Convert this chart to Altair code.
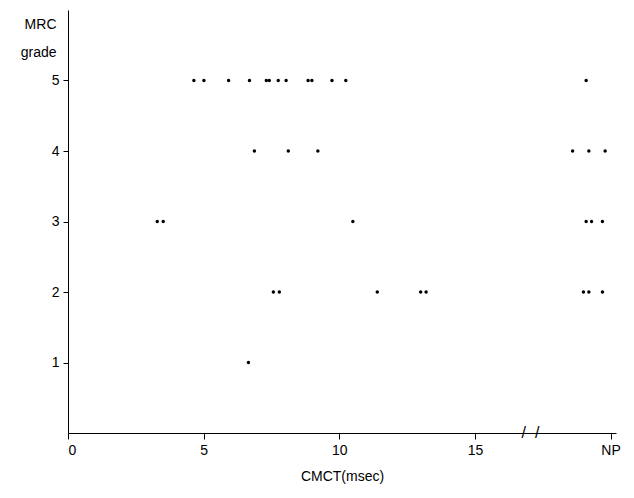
import altair as alt
import pandas as pd

# CMCT values (msec); NP (not performed) plotted near 20
grade5 = [4.64, 5.01, 5.92, 6.69, 7.31, 7.42, 7.75, 8.04, 8.85, 8.99, 9.73, 10.24, 19.1]
grade4 = [6.87, 8.12, 9.21, 18.6, 19.2, 19.8]
grade3 = [3.29, 3.51, 10.5, 19.1, 19.3, 19.7]
grade2 = [7.57, 7.79, 11.4, 13.0, 13.2, 19.0, 19.2, 19.7]
grade1 = [6.65]

x_ticks = [0, 5, 10, 15, 20]
x_labels = ["0", "5", "10", "15", "NP"]
y_ticks = [1, 2, 3, 4, 5]
break_x = [16.8, 17.3]

rows = []
for g, vals in [(5, grade5), (4, grade4), (3, grade3), (2, grade2), (1, grade1)]:
    for v in vals:
        rows.append({"cmct": v, "grade": g})
df = pd.DataFrame(rows)

label_expr = "datum.value == 20 ? 'NP' : format(datum.value, 'd')"
font = "Liberation Sans"

xscale = alt.Scale(domain=[0, 20.2], nice=False, zero=False)
yscale = alt.Scale(domain=[0, 6], nice=False)

points = alt.Chart(df).mark_circle(size=12, color="black", opacity=1).encode(
    x=alt.X("cmct:Q", scale=xscale,
            axis=alt.Axis(values=x_ticks, labelExpr=label_expr, title="CMCT(msec)",
                          grid=False, domainColor="black", tickColor="black",
                          tickSize=6, labelPadding=4, titlePadding=12,
                          labelFontSize=14, titleFontSize=14, labelColor="black",
                          titleColor="black", titleFontWeight="normal",
                          labelFont=font, titleFont=font)),
    y=alt.Y("grade:Q", scale=yscale,
            axis=alt.Axis(values=y_ticks, format="d", title=["MRC", "grade"], grid=False,
                          domainColor="black", tickColor="black", tickSize=5,
                          labelPadding=4, labelFontSize=14, titleFontSize=14,
                          labelColor="black", titleColor="black",
                          titleFontWeight="normal", titleAngle=0,
                          titleAlign="right", titleBaseline="top",
                          titleX=-12, titleY=7, titleLineHeight=28,
                          labelFont=font, titleFont=font)),
)

brk = alt.Chart(pd.DataFrame({"x": break_x, "y": [0, 0], "t": ["/", "/"]})).mark_text(
    fontSize=16, color="black", font=font
).encode(x=alt.X("x:Q", scale=xscale), y=alt.Y("y:Q", scale=yscale), text="t:N")

chart = alt.layer(points, brk).properties(
    width=548, height=423,
    autosize=alt.AutoSizeParams(type="none"),
    padding={"left": 60, "top": 2, "right": 10, "bottom": 60},
).configure_view(stroke=None)

chart.save("out.html", embed_options={"renderer": "svg", "actions": False})
